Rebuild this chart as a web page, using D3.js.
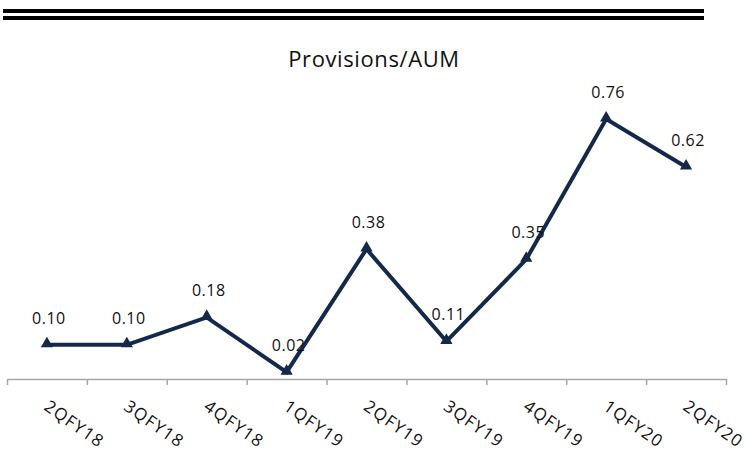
<!DOCTYPE html>
<html>
<head>
<meta charset="utf-8">
<script src="https://cdn.jsdelivr.net/npm/d3@7"></script>
<style>
  html, body { margin: 0; padding: 0; background: #fff; }
  svg { display: block; font-family: "Open Sans", "Noto Sans", sans-serif; }
</style>
</head>
<body>
<svg id="chart" width="747" height="452"></svg>
<script>
// Quarterly provisions as a share of AUM (%)
const quarters = ["2QFY18", "3QFY18", "4QFY18", "1QFY19", "2QFY19", "3QFY19", "4QFY19", "1QFY20", "2QFY20"];
const provisions = [0.10, 0.10, 0.18, 0.02, 0.38, 0.11, 0.35, 0.76, 0.62];
const chartTitle = "Provisions/AUM";

const svg = d3.select("#chart");
const lineColor = "#14294a";

// Double rule across the top of the page
[9, 16].forEach(y => {
  svg.append("rect").attr("x", 3).attr("y", y).attr("width", 701).attr("height", 4).attr("fill", "#000");
});

const left = 7, right = 726, baseY = 379;

const x = d3.scaleBand().domain(quarters).range([left, right]).padding(0);
const xEdges = d3.scaleLinear().domain([0, quarters.length]).range([left, right]);
const y = d3.scaleLinear().domain([0, 0.8]).range([baseY, 105.4]);

// Title
svg.append("text")
  .attr("x", 374).attr("y", 67)
  .attr("text-anchor", "middle")
  .attr("font-size", 22)
  .attr("letter-spacing", 0.6)
  .attr("fill", "#111")
  .text(chartTitle);

// Category axis with ticks at band edges
const axisG = svg.append("g")
  .attr("transform", `translate(0,${baseY})`)
  .call(d3.axisBottom(xEdges)
    .tickValues(d3.range(quarters.length + 1))
    .tickFormat("")
    .tickSize(6)
    .tickSizeOuter(0));
axisG.select(".domain").attr("stroke", "#a6a6a6").attr("stroke-width", 1.5);
axisG.selectAll(".tick line").attr("stroke", "#a6a6a6").attr("stroke-width", 1.5);

// Rotated category labels
svg.append("g").selectAll("text")
  .data(quarters)
  .join("text")
  .attr("transform", d => `translate(${x(d) + x.bandwidth() / 2 - 4},${409}) rotate(35)`)
  .attr("text-anchor", "start")
  .attr("font-size", 17)
  .attr("letter-spacing", 1.3)
  .attr("fill", "#111")
  .text(d => d);

const cx = d => x(d) + x.bandwidth() / 2;
const pts = quarters.map((q, i) => ({ q, v: provisions[i] }));

// Series line
svg.append("path")
  .datum(pts)
  .attr("fill", "none")
  .attr("stroke", lineColor)
  .attr("stroke-width", 4)
  .attr("stroke-linejoin", "miter")
  .attr("d", d3.line().x(d => cx(d.q)).y(d => y(d.v)));

// Triangle markers
svg.append("g").selectAll("path")
  .data(pts)
  .join("path")
  .attr("transform", d => `translate(${cx(d.q)},${y(d.v) - 1})`)
  .attr("d", d3.symbol(d3.symbolTriangle, 65)())
  .attr("fill", lineColor);

// Value labels
const fmt = d3.format(".2f");
svg.append("g").selectAll("text")
  .data(pts)
  .join("text")
  .attr("x", d => cx(d.q) + 2)
  .attr("y", d => y(d.v) - 21)
  .attr("text-anchor", "middle")
  .attr("font-size", 16)
  .attr("letter-spacing", 0.5)
  .attr("fill", "#111")
  .text(d => fmt(d.v));
</script>
</body>
</html>
